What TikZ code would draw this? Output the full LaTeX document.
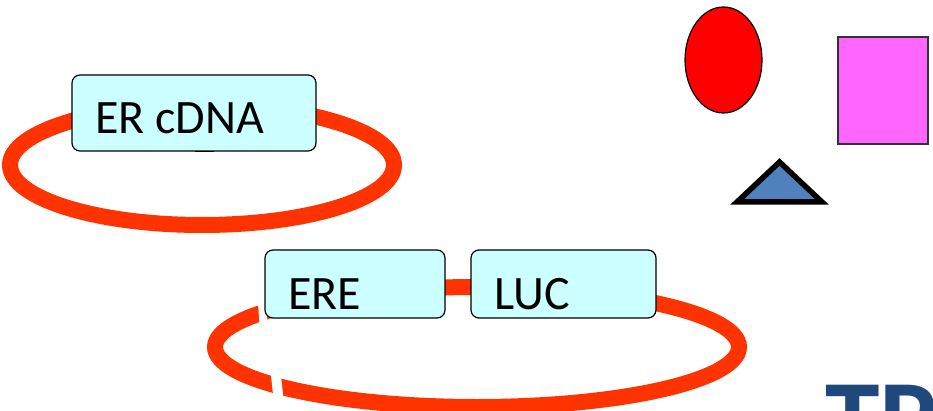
\documentclass[tikz,border=0pt]{standalone}
\usepackage{fontspec}
\setmainfont{Carlito}
\usetikzlibrary{shapes.geometric}
\definecolor{ringred}{HTML}{FF3300}
\definecolor{boxfill}{HTML}{CCFFFF}
\definecolor{shapered}{HTML}{FF0000}
\definecolor{shapepink}{HTML}{FF66FF}
\definecolor{shapeblue}{HTML}{4F81BD}
\definecolor{titleblue}{HTML}{1F497D}
\tikzset{
  ring/.style={draw=ringred, line width=16pt},
  gap/.style={draw=white, line width=10pt},
  genebox/.style={draw=black, line width=1.2pt, fill=boxfill, rounded corners=8pt, inner sep=0pt},
  lbl/.style={font=\fontsize{48}{57}\selectfont, inner sep=0pt, anchor=base west},
}
\begin{document}
\begin{tikzpicture}[x=1pt, y=-1pt]
\useasboundingbox (0,0) rectangle (933,411);
\begin{scope}
\clip (0,0) rectangle (933,411);
% plasmid rings
\draw[ring] (202,165) ellipse [x radius=192pt, y radius=60pt];
\draw[ring] (477,347) ellipse [x radius=262pt, y radius=60pt];
% white cuts in lower ring
\coordinate (c1a) at (261,290);
\coordinate (c1b) at (264,330);
\coordinate (c2a) at (274.5,362);
\coordinate (c2b) at (279.5,408);
\draw[draw=white, line width=8pt] (c1a) -- (c1b);
\draw[gap] (c2a) -- (c2b);
% boxes
\node[genebox, minimum width=244pt, minimum height=76pt] (er) at (194,113) {};
\coordinate (tickA) at (195,151.5);
\coordinate (tickB) at (214,151.5);
\draw[line width=1.5pt] (tickA) -- (tickB);
\node[genebox, minimum width=180pt, minimum height=68pt] (ere) at (355,284) {};
\node[genebox, minimum width=185pt, minimum height=68pt] (luc) at (563.5,284) {};
\node[lbl] (ertext) at (95,133.5) {ER cDNA};
\node[lbl] (eretext) at (288,309.5) {ERE};
\node[lbl] (luctext) at (494,309.5) {LUC};
% shapes
\node[draw=black, line width=1.2pt, fill=shapered, ellipse, minimum width=77pt, minimum height=106pt, inner sep=0pt] (oval) at (723.5,60) {};
\node[draw=black!80, line width=1.5pt, fill=shapepink, minimum width=90pt, minimum height=107pt, inner sep=0pt] (sq) at (883,90.5) {};
\coordinate (t1) at (737,202);
\coordinate (t2) at (822,202);
\coordinate (t3) at (779.5,162);
\draw[line width=5.5pt, fill=shapeblue, line join=miter] (t1) -- (t2) -- (t3) -- cycle;
% partial title
\node[font=\fontsize{110}{120}\selectfont\bfseries, text=titleblue, inner sep=0pt, anchor=base west] (title) at (825,456) {TR};
\end{scope}
\end{tikzpicture}
\end{document}
